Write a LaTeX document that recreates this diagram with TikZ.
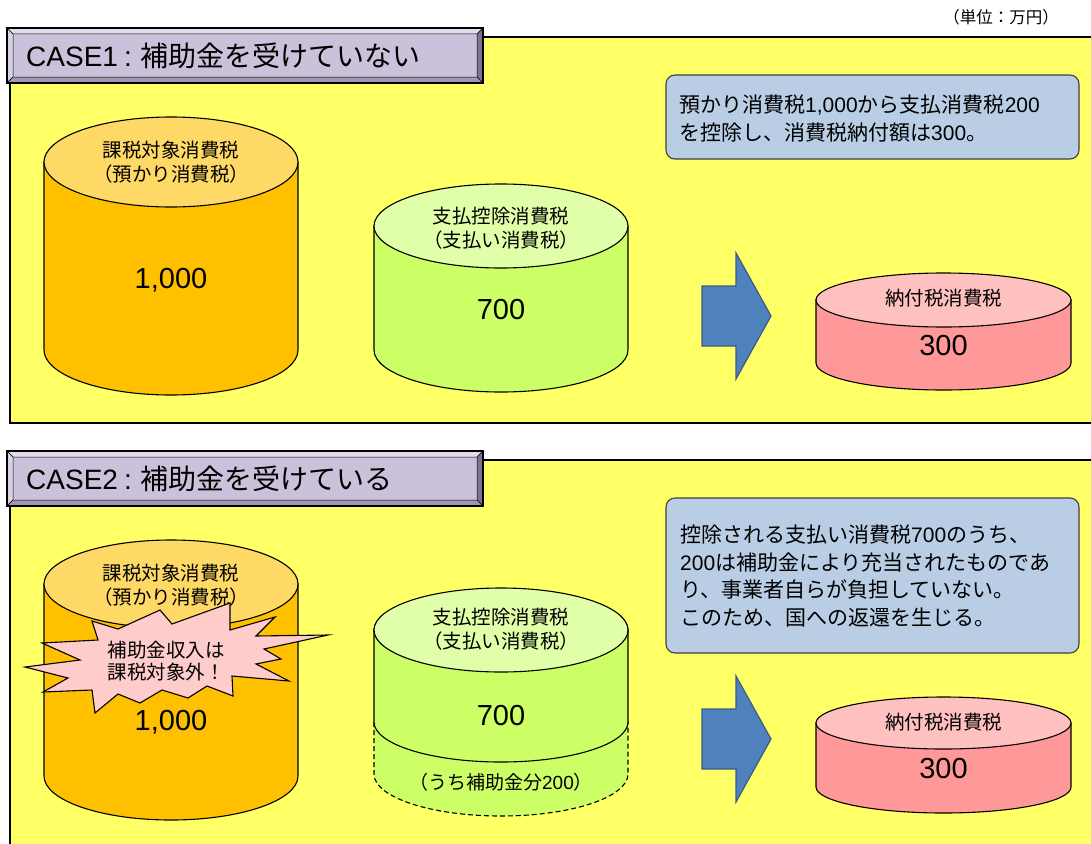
\documentclass[tikz,border=0pt]{standalone}
\usepackage{fontspec}
\setmainfont{Liberation Sans}
\newfontfamily\jp{Noto Sans CJK JP}
\definecolor{panelY}{HTML}{FFFF66}
\definecolor{titleFace}{HTML}{CCC1DA}
\definecolor{bevLight}{HTML}{E2DCEA}
\definecolor{bevLeft}{HTML}{D9D2E3}
\definecolor{bevDark}{HTML}{7E7290}
\definecolor{bevBottom}{HTML}{A198B0}
\definecolor{orSide}{HTML}{FFC000}
\definecolor{orTop}{HTML}{FFD966}
\definecolor{grSide}{HTML}{CCFF66}
\definecolor{grTop}{HTML}{E0FFA8}
\definecolor{pkSide}{HTML}{FF9999}
\definecolor{pkTop}{HTML}{FFC0C0}
\definecolor{arrowBlue}{HTML}{4F81BD}
\definecolor{arrowEdge}{HTML}{385D8A}
\definecolor{noteFill}{HTML}{B9CDE5}
\definecolor{burstFill}{HTML}{FFCCCC}
\newcommand\myfs[1]{\fontsize{#1}{#1}\selectfont}
\newcommand\cylinder[7]{%
  \filldraw[fill=#6, cylline] (#1-#4,#2) -- (#1-#4,#3) arc[start angle=180, end angle=360, x radius=#4pt, y radius=#5pt] -- (#1+#4,#2) -- cycle;
  \filldraw[fill=#7, cylline] (#1,#2) ellipse[x radius=#4pt, y radius=#5pt];
}
\newcommand\titlebox[1]{%
  \fill[titleFace] (13,#1+6) rectangle (477,#1+49);
  \filldraw[fill=bevLight, draw=black, line width=0.5pt] (7,#1) -- (483,#1) -- (477,#1+6) -- (13,#1+6) -- cycle;
  \filldraw[fill=bevLeft, draw=black, line width=0.5pt] (7,#1) -- (13,#1+6) -- (13,#1+49) -- (7,#1+55) -- cycle;
  \filldraw[fill=bevDark, draw=black, line width=0.5pt] (483,#1) -- (483,#1+55) -- (477,#1+49) -- (477,#1+6) -- cycle;
  \filldraw[fill=bevBottom, draw=black, line width=0.5pt] (7,#1+55) -- (483,#1+55) -- (477,#1+49) -- (13,#1+49) -- cycle;
  \draw[black, line width=1.6pt] (7,#1) rectangle (483,#1+55);
}
\newcommand\blockarrow[1]{%
  \filldraw[fill=arrowBlue, draw=arrowEdge, line width=1.2pt]
    (702,#1-30) -- (736,#1-30) -- (736,#1-63) -- (771,#1) -- (736,#1+63) -- (736,#1+30) -- (702,#1+30) -- cycle;
}
\newcommand\casecolon{\hspace{6pt}:\hspace{9pt}}
\begin{document}
\begin{tikzpicture}[x=1pt,y=-1pt,
  cylline/.style={draw=black, line width=1.1pt},
  cyltxt/.style={inner sep=0pt, text height=16.8pt, text depth=2.7pt, font=\jp\myfs{19.5}},
  numtxt/.style={inner sep=0pt, text height=24.9pt, text depth=4.1pt, font=\myfs{29}},
  subtxt/.style={inner sep=0pt, text height=16.3pt, text depth=2.7pt, font=\myfs{19}},
  unittxt/.style={inner sep=0pt, text height=14.2pt, text depth=2.3pt, font=\jp\myfs{16.5}},
  notetxt/.style={inner sep=0pt, text height=18.1pt, text depth=2.9pt, anchor=west, font=\myfs{21}},
  titletxt/.style={inner sep=0pt, text height=24.1pt, text depth=3.9pt, anchor=west, font=\myfs{28}},
  notebox/.style={fill=noteFill, draw=black!75, line width=1.1pt, rounded corners=9pt},
  panel/.style={fill=panelY, draw=black, line width=1.8pt}
]
\useasboundingbox (0,0) rectangle (1091,843);
\clip (0,0) rectangle (1091,843);

% unit
\node[unittxt] (unit) at (1001,18) {（単位：万円）};

% ================= CASE 1 =================
\draw[panel] (10,37) rectangle (1110,423);
\titlebox{28}
\node[titletxt] (t1) at (26,56) {CASE1\casecolon{\jp 補助金を受けていない}};

\cylinder{171}{162}{350}{127}{45}{orSide}{orTop}
\node[cyltxt] (o1a) at (171,150) {課税対象消費税};
\node[cyltxt] (o1b) at (171,174) {（預かり消費税）};
\node[numtxt] (o1n) at (171,278) {1,000};

\cylinder{501}{226}{350}{127}{42}{grSide}{grTop}
\node[cyltxt] (g1a) at (501,216) {支払控除消費税};
\node[cyltxt] (g1b) at (501,240) {（支払い消費税）};
\node[numtxt] (g1n) at (501,309) {700};

\blockarrow{316}

\cylinder{943.5}{300}{363}{127.5}{27}{pkSide}{pkTop}
\node[cyltxt] (p1a) at (943.5,298) {納付税消費税};
\node[numtxt] (p1n) at (943.5,345) {300};

\draw[notebox] (666,75) rectangle (1079,159);
\node[notetxt] (n1a) at (679,105) {{\jp 預かり消費税}1,000{\jp から支払消費税}200};
\node[notetxt] (n1b) at (679,133) {{\jp を控除し、消費税納付額は}300{\jp 。}};

% ================= CASE 2 =================
\draw[panel] (10,460) rectangle (1110,870);
\titlebox{451}
\node[titletxt] (t2) at (26,479) {CASE2\casecolon{\jp 補助金を受けている}};

\cylinder{171}{584}{776}{127}{44}{orSide}{orTop}
\node[cyltxt] (o2a) at (171,573) {課税対象消費税};
\node[cyltxt] (o2b) at (171,597) {（預かり消費税）};
\node[numtxt] (o2n) at (171,720) {1,000};

% starburst
\filldraw[fill=burstFill, draw=black, line width=1.1pt]
  (92,621) -- (118,629) -- (160,610) -- (172,624) -- (230,603) -- (230,630)
  -- (275,617) -- (256,636) -- (328,635) -- (264,649) -- (281,659) -- (256,664)
  -- (289,681) -- (232,676) -- (233,696) -- (207,686) -- (188,698) -- (162,690)
  -- (140,703) -- (118,694) -- (95,713) -- (92,690) -- (43,692) -- (68,678)
  -- (25,667) -- (80,660) -- (42,643) -- (98,640) -- cycle;
\node[cyltxt] (b1) at (166,650) {補助金収入は};
\node[cyltxt] (b2) at (166,672) {課税対象外！};

% green cylinder with dashed subsidy part
\filldraw[fill=grSide, draw=black, line width=1.1pt, dash pattern=on 5pt off 3pt]
  (374,722) -- (374,774) arc[start angle=180, end angle=360, x radius=127pt, y radius=42pt] -- (628,722) -- cycle;
\cylinder{501}{630}{722}{127}{40}{grSide}{grTop}
\filldraw[fill=grTop, cylline] (501,630) ellipse[x radius=127pt, y radius=42pt];
\node[cyltxt] (g2a) at (501,617) {支払控除消費税};
\node[cyltxt] (g2b) at (501,641) {（支払い消費税）};
\node[numtxt] (g2n) at (501,715) {700};
\node[subtxt] (g2s) at (501,783) {{\jp （うち補助金分}200{\jp ）}};

\blockarrow{739}

\cylinder{943.5}{723}{787}{127.5}{26}{pkSide}{pkTop}
\node[cyltxt] (p2a) at (943.5,722) {納付税消費税};
\node[numtxt] (p2n) at (943.5,768) {300};

\draw[notebox] (666,498) rectangle (1079,653);
\node[notetxt] (n2a) at (680,535) {{\jp 控除される支払い消費税}700{\jp のうち、}};
\node[notetxt] (n2b) at (680,563) {200{\jp は補助金により充当されたものであ}};
\node[notetxt] (n2c) at (680,590) {{\jp り、事業者自らが負担していない。}};
\node[notetxt] (n2d) at (680,618) {{\jp このため、国への返還を生じる。}};
\end{tikzpicture}
\end{document}
